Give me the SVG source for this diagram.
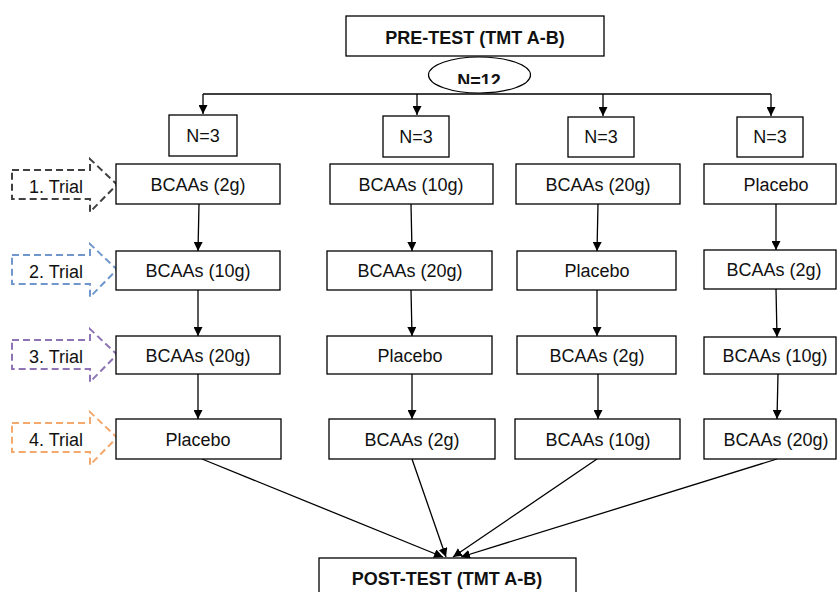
<svg xmlns="http://www.w3.org/2000/svg" width="838" height="592" viewBox="0 0 838 592">
<defs>
<style>
.box{fill:#fff;stroke:#000;stroke-width:1.3}
.t{font-family:"Liberation Sans",Arial,sans-serif;font-size:18px;fill:#111;text-anchor:middle}
.b{font-weight:bold}
.tr{font-family:"Liberation Sans",Arial,sans-serif;font-size:18px;fill:#111;text-anchor:middle}
.ln{stroke:#000;stroke-width:1.3;fill:none}
.trial{fill:none;stroke-width:2;stroke-dasharray:7 4}
</style>
<marker id="ah" viewBox="0 0 10 10" refX="10" refY="5" markerWidth="9" markerHeight="9" markerUnits="userSpaceOnUse" orient="auto">
<path d="M0,0 L10,5 L0,10 Z" fill="#000"/>
</marker>
<clipPath id="clipN"><rect x="420" y="50" width="120" height="34"/></clipPath>
</defs>

<g id="pretest">
<rect class="box" x="346" y="16" width="258" height="40"/>
<text class="t b" x="475" y="44">PRE-TEST (TMT A-B)</text>
</g>

<g id="connectors">
<line class="ln" x1="203" y1="94" x2="771" y2="94"/>
<line class="ln" x1="203" y1="94" x2="203" y2="114" marker-end="url(#ah)"/>
<line class="ln" x1="417" y1="94" x2="417" y2="115" marker-end="url(#ah)"/>
<line class="ln" x1="603" y1="94" x2="603" y2="116" marker-end="url(#ah)"/>
<line class="ln" x1="771" y1="94" x2="771" y2="116" marker-end="url(#ah)"/>

<line class="ln" x1="199" y1="204" x2="198" y2="251" marker-end="url(#ah)"/>
<line class="ln" x1="198" y1="290" x2="198" y2="336" marker-end="url(#ah)"/>
<line class="ln" x1="198" y1="374" x2="198" y2="419" marker-end="url(#ah)"/>

<line class="ln" x1="411" y1="204" x2="412" y2="251" marker-end="url(#ah)"/>
<line class="ln" x1="411" y1="290" x2="412" y2="336" marker-end="url(#ah)"/>
<line class="ln" x1="412" y1="374" x2="412" y2="419" marker-end="url(#ah)"/>

<line class="ln" x1="598" y1="204" x2="597" y2="251" marker-end="url(#ah)"/>
<line class="ln" x1="597" y1="290" x2="597" y2="336" marker-end="url(#ah)"/>
<line class="ln" x1="598" y1="374" x2="598" y2="419" marker-end="url(#ah)"/>

<line class="ln" x1="776" y1="204" x2="776" y2="250" marker-end="url(#ah)"/>
<line class="ln" x1="776" y1="289" x2="777" y2="337" marker-end="url(#ah)"/>
<line class="ln" x1="778" y1="374" x2="777" y2="419" marker-end="url(#ah)"/>

<line class="ln" x1="202" y1="459" x2="443" y2="557" marker-end="url(#ah)"/>
<line class="ln" x1="412" y1="459" x2="446" y2="557" marker-end="url(#ah)"/>
<line class="ln" x1="597" y1="459" x2="453" y2="557" marker-end="url(#ah)"/>
<line class="ln" x1="777" y1="459" x2="461" y2="557" marker-end="url(#ah)"/>
</g>

<g id="n12">
<ellipse cx="479.5" cy="75" rx="51" ry="18" fill="#fff" stroke="#000" stroke-width="1.2"/>
<text class="t b" x="479" y="87" clip-path="url(#clipN)">N=12</text>
</g>

<g id="n3-1"><rect class="box" x="169" y="115" width="68" height="41"/><text class="t" x="203" y="142">N=3</text></g>
<g id="n3-2"><rect class="box" x="383" y="116" width="66" height="41"/><text class="t" x="416" y="143">N=3</text></g>
<g id="n3-3"><rect class="box" x="568" y="117" width="66" height="40"/><text class="t" x="601" y="143">N=3</text></g>
<g id="n3-4"><rect class="box" x="737" y="117" width="66" height="40"/><text class="t" x="770" y="143">N=3</text></g>

<g id="trial1"><polygon class="trial" stroke="#404040" points="12,170 90,170 90,159 117,184.5 90,212 90,199 12,199"/><text class="tr" x="56" y="193">1. Trial</text></g>
<g id="trial2"><polygon class="trial" stroke="#6f97cb" points="12,255 90,255 90,244 117,269.5 90,297 90,284 12,284"/><text class="tr" x="56" y="278">2. Trial</text></g>
<g id="trial3"><polygon class="trial" stroke="#8f74b5" points="12,340 90,340 90,329 117,354.5 90,382 90,369 12,369"/><text class="tr" x="56" y="363">3. Trial</text></g>
<g id="trial4"><polygon class="trial" stroke="#f5a86c" points="12,423 90,423 90,412 117,437.5 90,465 90,452 12,452"/><text class="tr" x="56" y="446">4. Trial</text></g>

<g id="c1r1"><rect class="box" x="116" y="164" width="164" height="40"/><text class="t" x="198" y="191">BCAAs (2g)</text></g>
<g id="c2r1"><rect class="box" x="330" y="164" width="163" height="40"/><text class="t" x="411" y="191">BCAAs (10g)</text></g>
<g id="c3r1"><rect class="box" x="516" y="164" width="164" height="40"/><text class="t" x="598" y="191">BCAAs (20g)</text></g>
<g id="c4r1"><rect class="box" x="704" y="164" width="132" height="40"/><text class="t" x="776" y="191">Placebo</text></g>

<g id="c1r2"><rect class="box" x="116" y="251" width="164" height="39"/><text class="t" x="198" y="277">BCAAs (10g)</text></g>
<g id="c2r2"><rect class="box" x="327" y="251" width="165" height="39"/><text class="t" x="410" y="277">BCAAs (20g)</text></g>
<g id="c3r2"><rect class="box" x="517" y="251" width="159" height="39"/><text class="t" x="597" y="277">Placebo</text></g>
<g id="c4r2"><rect class="box" x="704" y="250" width="132" height="39"/><text class="t" x="774" y="276">BCAAs (2g)</text></g>

<g id="c1r3"><rect class="box" x="116" y="336" width="164" height="38"/><text class="t" x="198" y="362">BCAAs (20g)</text></g>
<g id="c2r3"><rect class="box" x="327" y="336" width="165" height="38"/><text class="t" x="410" y="362">Placebo</text></g>
<g id="c3r3"><rect class="box" x="517" y="336" width="159" height="38"/><text class="t" x="597" y="362">BCAAs (2g)</text></g>
<g id="c4r3"><rect class="box" x="704" y="337" width="132" height="37"/><text class="t" x="775" y="362">BCAAs (10g)</text></g>

<g id="c1r4"><rect class="box" x="116" y="419" width="165" height="40"/><text class="t" x="198" y="446">Placebo</text></g>
<g id="c2r4"><rect class="box" x="329" y="419" width="166" height="40"/><text class="t" x="412" y="446">BCAAs (2g)</text></g>
<g id="c3r4"><rect class="box" x="515" y="419" width="165" height="40"/><text class="t" x="598" y="446">BCAAs (10g)</text></g>
<g id="c4r4"><rect class="box" x="704" y="419" width="132" height="40"/><text class="t" x="776" y="446">BCAAs (20g)</text></g>

<g id="posttest">
<rect class="box" x="319" y="558" width="257" height="50"/>
<text class="t b" x="447" y="585">POST-TEST (TMT A-B)</text>
</g>
</svg>
